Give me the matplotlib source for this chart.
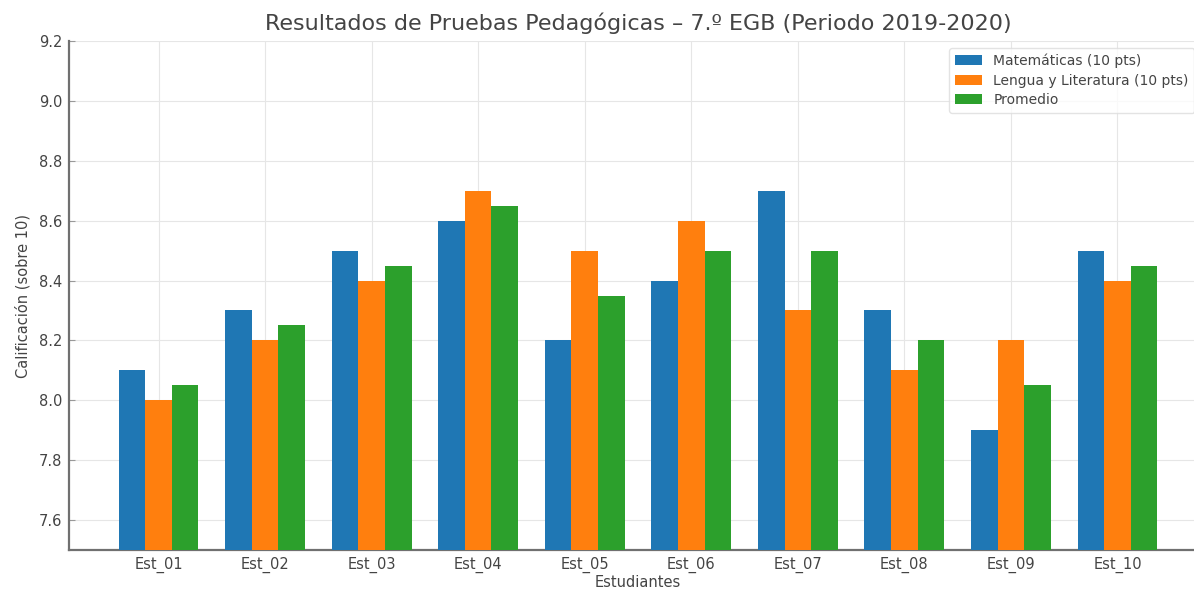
import numpy as np
import matplotlib
matplotlib.use("Agg")
import matplotlib.pyplot as plt

# data
students = ["Est_01", "Est_02", "Est_03", "Est_04", "Est_05",
            "Est_06", "Est_07", "Est_08", "Est_09", "Est_10"]
matematicas = [8.1, 8.3, 8.5, 8.6, 8.2, 8.4, 8.7, 8.3, 7.9, 8.5]
lengua = [8.0, 8.2, 8.4, 8.7, 8.5, 8.6, 8.3, 8.1, 8.2, 8.4]
promedio = [8.05, 8.25, 8.45, 8.65, 8.35, 8.5, 8.5, 8.2, 8.05, 8.45]
series_labels = ["Matemáticas (10 pts)", "Lengua y Literatura (10 pts)", "Promedio"]
y_ticks = [7.6, 7.8, 8.0, 8.2, 8.4, 8.6, 8.8, 9.0, 9.2]

text_col = "#444444"
plt.rcParams["font.family"] = "DejaVu Sans"

fig = plt.figure(figsize=(11.94, 5.92), dpi=100)
ax = fig.add_axes([69 / 1194, 42 / 592, (1207 - 69) / 1194, 509 / 592])

x = np.arange(len(students))
w = 0.25
colors = ["#1f77b4", "#ff7f0e", "#2ca02c"]
for i, (vals, lab) in enumerate(zip([matematicas, lengua, promedio], series_labels)):
    ax.bar(x + (i - 1) * w, vals, width=w, color=colors[i], label=lab, zorder=3)

ax.set_xlim(-0.84, 9.84)
ax.set_ylim(7.5, 9.2)
ax.set_xticks(x)
ax.set_xticklabels(students)
ax.set_yticks(y_ticks)
ax.set_yticklabels([f"{v:.1f}" for v in y_ticks])

ax.grid(True, color="#e6e6e6", linewidth=0.8, zorder=0)
ax.set_axisbelow(True)
for s in ["top", "right"]:
    ax.spines[s].set_visible(False)
for s in ["left", "bottom"]:
    ax.spines[s].set_color("#707070")
    ax.spines[s].set_linewidth(1.6)
ax.tick_params(axis="both", direction="in", colors="#999999", labelcolor=text_col,
               labelsize=10.5, length=4, pad=5)

ax.set_title("Resultados de Pruebas Pedagógicas – 7.º EGB (Periodo 2019-2020)",
             fontsize=16, color=text_col, pad=8)
ax.set_xlabel("Estudiantes", fontsize=10.5, color=text_col, labelpad=1)
ax.set_ylabel("Calificación (sobre 10)", fontsize=10.5, color=text_col, labelpad=6)

leg = ax.legend(loc="upper right", fontsize=10, frameon=True, fancybox=True,
                bbox_to_anchor=(0.995, 1.0), handlelength=2.0, labelspacing=0.4)
leg.get_frame().set_edgecolor("#dddddd")
for t in leg.get_texts():
    t.set_color(text_col)

fig.savefig("out.png", dpi=100)
